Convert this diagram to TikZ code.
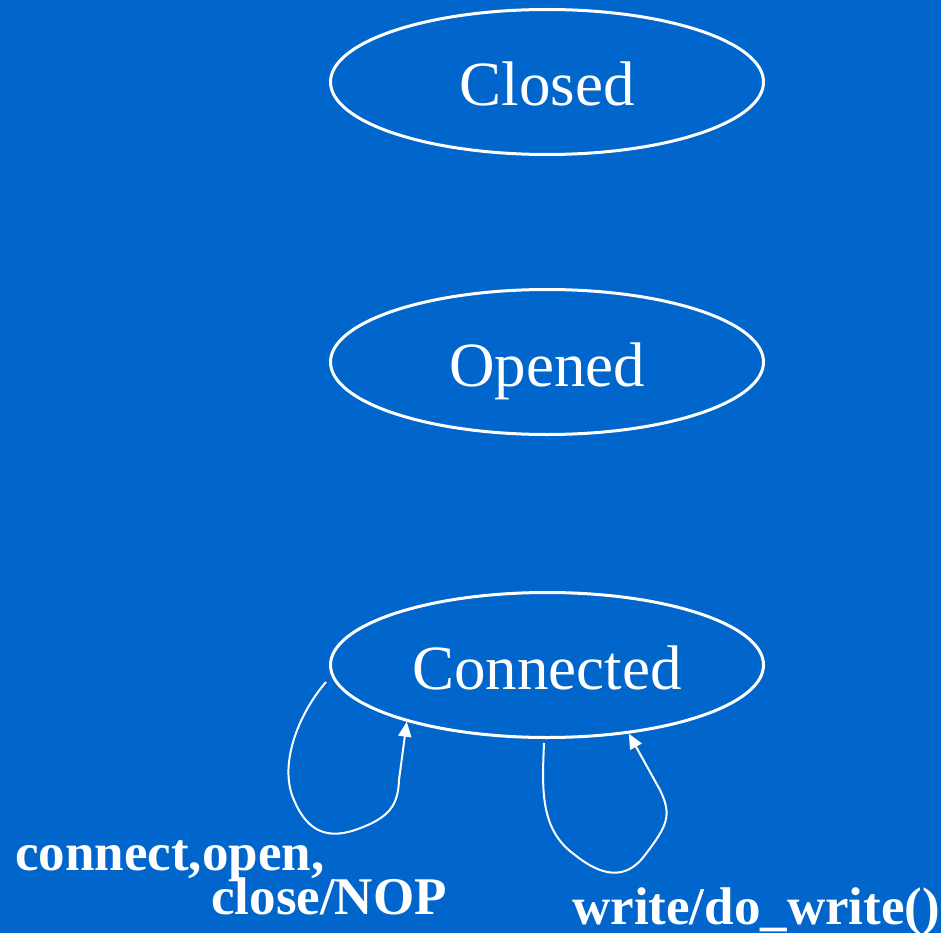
\documentclass[tikz,border=0pt]{standalone}
\usepackage{fontspec}
\setmainfont{Liberation Serif}
\usetikzlibrary{shapes.geometric,arrows.meta}
\definecolor{bgblue}{HTML}{0066CC}
\tikzset{
  state/.style={ellipse, draw=white, line width=3pt, text=white,
    minimum width=433pt, minimum height=145pt, inner sep=0pt,
    text height=48pt, text depth=0pt,
    font=\fontsize{63}{70}\selectfont},
  selfloop/.style={draw=white, line width=2pt,
    -{Triangle[length=15pt,width=13pt]}},
  evlabel/.style={text=white, inner sep=0pt,
    font=\fontsize{53}{56}\selectfont\bfseries}
}
\begin{document}
\begin{tikzpicture}[x=1pt,y=-1pt]
  \fill[bgblue] (0,0) rectangle (941,933);
  \useasboundingbox (0,0) rectangle (941,933);

  \node[state] (closed) at (547,82) {Closed};
  \node[state] (opened) at (547,362) {Opened};
  \node[state] (conn) at (547,665) {Connected};

  % self transitions of the Connected state
  \coordinate (ls) at (326,682);
  \coordinate (rs) at (544,743);
  \draw[selfloop] (ls) .. controls (300,712) and (280,760) .. (292,795)
    .. controls (305,830) and (325,840) .. (355,830)
    .. controls (390,818) and (398,805) .. (399,780) -- (conn.202);
  \draw[selfloop] (rs) .. controls (542,790) and (540,830) .. (575,855)
    .. controls (600,875) and (625,882) .. (645,855)
    .. controls (668,825) and (672,815) .. (660,790) -- (conn.320);

  \node[evlabel, anchor=base west] (l1) at (15,870) {connect,open,};
  \node[evlabel, anchor=base east] (l2) at (447,914) {close/NOP};
  \node[evlabel, anchor=base west] (l3) at (572,924) {write/do\_write()};
\end{tikzpicture}
\end{document}
